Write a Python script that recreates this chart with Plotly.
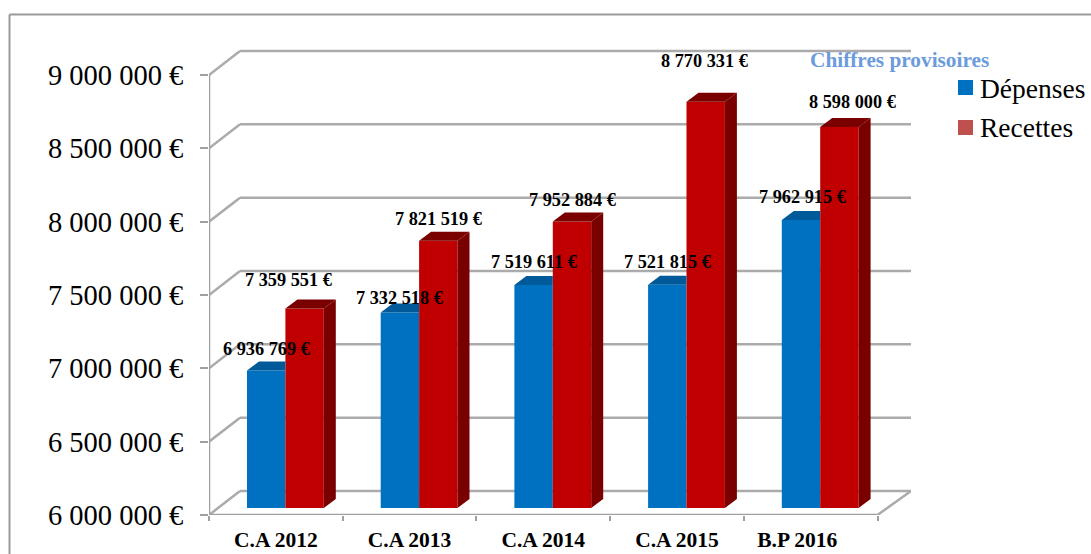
import plotly.graph_objects as go

categories = ["C.A 2012", "C.A 2013", "C.A 2014", "C.A 2015", "B.P 2016"]
depenses = [6936769, 7332518, 7519611, 7521815, 7962915]
recettes = [7359551, 7821519, 7952884, 8770331, 8598000]
y_ticks = [6000000, 6500000, 7000000, 7500000, 8000000, 8500000, 9000000]
y_labels = ["6 000 000 €", "6 500 000 €", "7 000 000 €", "7 500 000 €", "8 000 000 €", "8 500 000 €", "9 000 000 €"]
dep_labels = ["6 936 769 €", "7 332 518 €", "7 519 611 €", "7 521 815 €", "7 962 915 €"]
rec_labels = ["7 359 551 €", "7 821 519 €", "7 952 884 €", "8 770 331 €", "8 598 000 €"]

# manual label nudges (pixels)
dep_up = [22, 15, 23, 23, 23]
rec_up = [29, 22, 22, 41, 25]
dep_side = [0, 0, 0, 0, 1]
rec_side = [-16, 0, 0, -1, 13]

W, H = 1091, 554
L, R, T, B = 209, 180, 40, 39
CAT = 133.7
PXV = 146.67e-6  # px per euro
YMIN = 6000000
plot_w = W - L - R
plot_h = H - T - B
xmax = plot_w / CAT
ymax = YMIN + plot_h / PXV


def dx(p):
    return p / CAT


def dv(p):
    return p / PXV


def px(x):
    return (x - L) / plot_w


def py(y):
    return (H - B - y) / plot_h


SERIF = "Liberation Serif"
BLUE, BLUE_D = "#0070C0", "#005A9A"
RED, RED_D = "#C00000", "#7A0000"
GRID = "#ABABAB"

bar_left = dx(38)
bar_w = dx(38.4)
shift = dv(7)
base = YMIN + shift
sx, sy = dx(12), dv(9)

fig = go.Figure()
xs = list(range(len(categories)))

fig.add_trace(go.Bar(x=[i + bar_left + bar_w / 2 for i in xs],
                     y=[v - YMIN for v in depenses], base=[base] * 5, width=bar_w,
                     marker=dict(color=BLUE, line=dict(width=0)), showlegend=False, name="Dépenses"))
fig.add_trace(go.Bar(x=[i + bar_left + bar_w * 1.5 for i in xs],
                     y=[v - YMIN for v in recettes], base=[base] * 5, width=bar_w,
                     marker=dict(color=RED, line=dict(width=0)), showlegend=False, name="Recettes"))

bx, by, rx, ry, ox, oy = [], [], [], [], [], []
for i, d, r in zip(xs, depenses, recettes):
    a = i + bar_left
    b = a + bar_w
    c = b + bar_w
    d += shift
    r += shift
    bx += [a, a + sx, b, b, None]
    by += [d, d + sy, d + sy, d, None]
    rx += [b, b + sx, c + sx, c, None]
    ry += [r, r + sy, r + sy, r, None]
    ox += [c, c + sx, c + sx, c, None]
    oy += [r, r + sy, base + sy, base, None]

for xv, yv, col in [(bx, by, BLUE_D), (rx, ry, RED_D), (ox, oy, RED_D)]:
    fig.add_trace(go.Scatter(x=xv, y=yv, mode="lines", fill="toself", fillcolor=col,
                             line=dict(width=0), hoverinfo="skip", showlegend=False))

shapes = []


def seg(x0, y0, x1, y1, width=2.5, color=GRID):
    shapes.append(dict(type="line", xref="x", yref="y", x0=x0, y0=y0, x1=x1, y1=y1,
                       layer="below", line=dict(color=color, width=width)))


wx, wy = dx(31), dv(24)
for v in y_ticks:
    seg(0, v, wx, v + wy)
    seg(wx, v + wy, xmax, v + wy)
seg(0, YMIN, 0, max(y_ticks), 2.5, "#A0A0A0")
seg(0, YMIN, len(categories), YMIN, 2.5, "#A0A0A0")
seg(len(categories), YMIN, xmax, YMIN + wy)

# outer frame
for a, b, c, d in [(9.5, 554, 9.5, 14.5), (9.5, 14.5, 1091, 14.5)]:
    shapes.append(dict(type="line", xref="paper", yref="paper", x0=px(a), y0=py(b), x1=px(c), y1=py(d),
                       layer="below", line=dict(color="#999999", width=2)))

# legend swatches
for top, col in [(80, BLUE), (120, "#C0504D")]:
    shapes.append(dict(type="rect", xref="paper", yref="paper", x0=px(958), x1=px(973),
                       y0=py(top + 15), y1=py(top), line=dict(width=0), fillcolor=col, layer="above"))

ann = []
lab_font = dict(family=SERIF, size=18.3, color="black")
for i in xs:
    ann.append(dict(x=i + bar_left + bar_w / 2, y=depenses[i] + shift, xref="x", yref="y",
                    text="<b>%s</b>" % dep_labels[i],
                    showarrow=False, xanchor="center", yanchor="middle", font=lab_font,
                    xshift=dep_side[i], yshift=dep_up[i]))
    ann.append(dict(x=i + bar_left + bar_w * 1.5, y=recettes[i] + shift, xref="x", yref="y",
                    text="<b>%s</b>" % rec_labels[i],
                    showarrow=False, xanchor="center", yanchor="middle", font=lab_font,
                    xshift=rec_side[i], yshift=rec_up[i]))
ann.append(dict(x=px(808), y=py(60), xref="paper", yref="paper", text="<b>Chiffres provisoires</b>",
                showarrow=False, xanchor="left", yanchor="middle",
                font=dict(family=SERIF, size=21.3, color="#6C9BDC")))
for txt, yc in [("Dépenses", 88), ("Recettes", 128)]:
    ann.append(dict(x=px(978), y=py(yc), xref="paper", yref="paper", text=txt, showarrow=False,
                    xanchor="left", yanchor="middle", font=dict(family=SERIF, size=27.5, color="black")))

cat_text = categories[:-1] + [categories[-1] + "\u00a0" * 5]

fig.update_layout(
    width=W, height=H, autosize=False,
    margin=dict(l=L, r=R, t=T, b=B, pad=0),
    paper_bgcolor="white", plot_bgcolor="white",
    barmode="overlay", showlegend=False,
    shapes=shapes, annotations=ann,
    xaxis=dict(range=[0, xmax], automargin=False, showgrid=False, zeroline=False, showline=False,
               tickmode="array", tickvals=[i + 0.5 for i in xs], ticktext=cat_text,
               ticks="", ticklabelstandoff=9,
               tickfont=dict(family=SERIF, size=21.5, color="black", weight="bold"),
               minor=dict(tickmode="array", tickvals=list(range(len(categories) + 1)), ticks="outside",
                          ticklen=5, tickwidth=2, tickcolor="#A0A0A0", showgrid=False)),
    yaxis=dict(range=[YMIN, ymax], automargin=False, showgrid=False, zeroline=False, showline=False,
               tickmode="array", tickvals=y_ticks, ticktext=y_labels,
               ticks="outside", ticklen=8, tickwidth=2, tickcolor="#A0A0A0", ticklabelstandoff=11,
               tickfont=dict(family=SERIF, size=28.5, color="black")),
)

fig.write_html("out.html", config={"displayModeBar": False},
               post_script="document.body.style.margin='0';document.documentElement.style.overflow='hidden';")
